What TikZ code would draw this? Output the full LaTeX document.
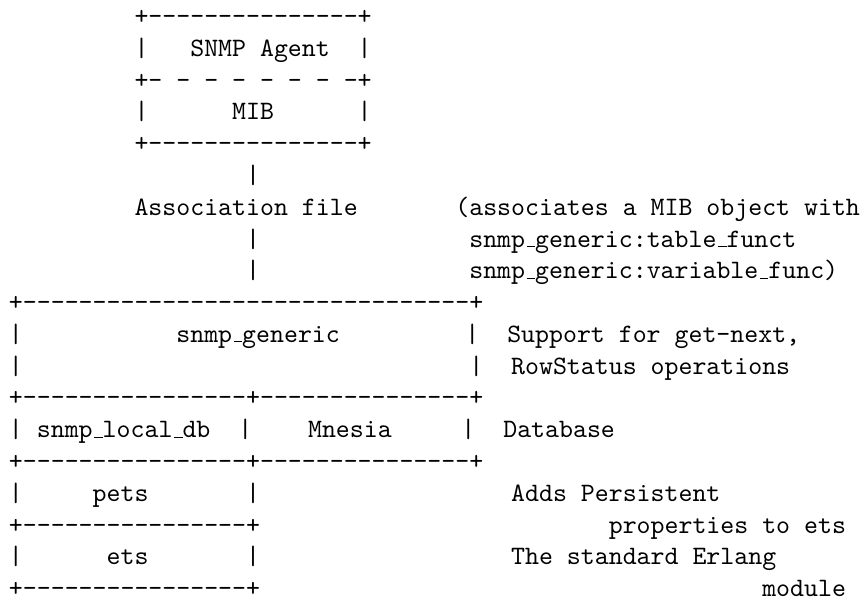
\documentclass[tikz,border=0pt]{standalone}
\usepackage{tikz}

\newcommand\us{\leavevmode\kern0.63pt\vbox{\hrule width3.15pt}}
\newcommand\sk[1]{\hspace*{#1\fontcharwd\font`\x}}
\newcommand\dsh[1]{\foreach\i in {1,...,#1}{-}}

\begin{document}
\begin{tikzpicture}[
		x=5.25pt, y=-11.96pt
		,ln/.style={anchor=base west, inner sep=0pt, outer sep=0pt, font=\ttfamily}
	]
		\useasboundingbox (-0.645,-0.774) rectangle (61.22,18.105);

		% agent box
		\node[ln] (agenttop) at (9,0) {+\dsh{15}+};
		\node[ln] (agent) at (9,1) {|\sk{3}SNMP Agent\sk{2}|};
		\node[ln] (agentsep) at (9,2) {+- - - - - - - -+};
		\node[ln] (mib) at (9,3) {|\sk{6}MIB\sk{6}|};
		\node[ln] (agentbot) at (9,4) {+\dsh{15}+};

		% association file
		\node[ln] (linka) at (17,5) {|};
		\node[ln] (assoc) at (9,6) {Association file\sk{7}(associates a MIB object with};
		\node[ln] (linkb) at (17,7) {|\sk{15}snmp\us generic:table\us funct};
		\node[ln] (linkc) at (17,8) {|\sk{15}snmp\us generic:variable\us func)};

		% snmp_generic
		\node[ln] (gentop) at (0,9) {+\dsh{32}+};
		\node[ln] (generic) at (0,10) {|\sk{11}snmp\us generic\sk{9}|\sk{2}Support for get-next,};
		\node[ln] (genpad) at (0,11) {|\sk{32}|\sk{2}RowStatus operations};

		% databases
		\node[ln] (dbtop) at (0,12) {+\dsh{16}+\dsh{15}+};
		\node[ln] (db) at (0,13) {|\sk{1}snmp\us local\us db\sk{2}|\sk{4}Mnesia\sk{5}|\sk{2}Database};
		\node[ln] (dbbot) at (0,14) {+\dsh{16}+\dsh{15}+};
		\node[ln] (pets) at (0,15) {|\sk{5}pets\sk{7}|\sk{18}Adds Persistent};
		\node[ln] (petsbot) at (0,16) {+\dsh{16}+\sk{25}properties to ets};
		\node[ln] (ets) at (0,17) {|\sk{6}ets\sk{7}|\sk{18}The standard Erlang};
		\node[ln] (etsbot) at (0,18) {+\dsh{16}+\sk{36}module};
	\end{tikzpicture}
\end{document}
